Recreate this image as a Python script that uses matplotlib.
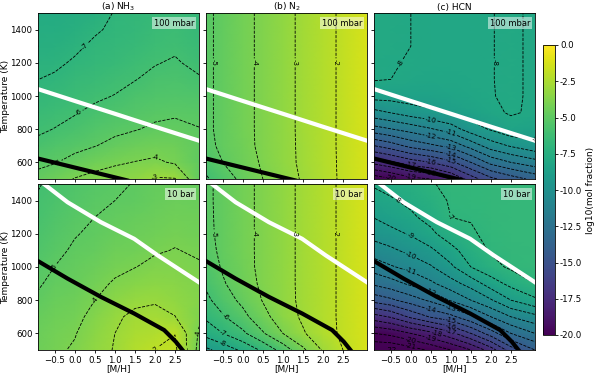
import numpy as np
import matplotlib
matplotlib.use("Agg")
import matplotlib.pyplot as plt

# grid: [M/H] columns, temperature rows
mh = np.array([-0.9, -0.5, 0.0, 0.5, 1.0, 1.5, 2.0, 2.5, 3.1])
temp = np.array([500, 600, 700, 800, 900, 1000, 1100, 1200, 1300, 1400, 1500])

# each inner list = one [M/H] column, values for T = 500 ... 1500 K
nh3_100mbar = np.array([
    [-4.7, -5.2, -5.75, -6.15, -6.45, -6.72, -7.0, -7.25, -7.45, -7.65, -7.8],
    [-4.4, -5.05, -5.5, -5.97, -6.3, -6.6, -6.88, -7.15, -7.38, -7.58, -7.75],
    [-3.95, -4.7, -5.25, -5.75, -6.05, -6.35, -6.6, -6.9, -7.15, -7.4, -7.6],
    [-3.75, -4.3, -5.03, -5.4, -5.8, -6.15, -6.42, -6.65, -6.85, -7.1, -7.35],
    [-3.55, -4.12, -4.75, -5.2, -5.55, -5.97, -6.25, -6.5, -6.7, -6.85, -6.95],
    [-3.4, -3.97, -4.5, -5.05, -5.35, -5.7, -6.03, -6.3, -6.5, -6.65, -6.75],
    [-2.9, -3.85, -4.35, -4.85, -5.2, -5.5, -5.78, -6.05, -6.3, -6.45, -6.6],
    [-2.95, -4.1, -4.4, -4.8, -5.1, -5.4, -5.65, -5.9, -6.15, -6.3, -6.45],
    [-4.8, -4.85, -4.9, -4.97, -5.2, -5.5, -5.9, -6.25, -6.45, -6.6, -6.7],
]).T

nh3_10bar = np.array([
    [-4.4, -4.5, -4.65, -4.85, -5.08, -5.3, -5.5, -5.65, -5.8, -5.9, -6.05],
    [-4.15, -4.25, -4.4, -4.6, -4.78, -4.99, -5.2, -5.38, -5.52, -5.65, -5.78],
    [-3.9, -4.05, -4.25, -4.45, -4.62, -4.75, -4.88, -5.05, -5.2, -5.35, -5.5],
    [-3.3, -3.5, -3.72, -4.0, -4.25, -4.5, -4.7, -4.85, -5.0, -5.13, -5.25],
    [-2.95, -3.0, -3.15, -3.5, -3.9, -4.2, -4.45, -4.65, -4.82, -5.0, -5.1],
    [-2.3, -2.55, -2.8, -3.2, -3.6, -4.02, -4.3, -4.5, -4.68, -4.85, -4.97],
    [-1.98, -2.4, -2.7, -3.1, -3.45, -3.8, -4.08, -4.3, -4.48, -4.62, -4.75],
    [-1.8, -2.02, -2.98, -3.3, -3.55, -3.78, -3.97, -4.15, -4.32, -4.47, -4.6],
    [-4.3, -4.1, -3.85, -3.75, -3.8, -3.92, -4.1, -4.3, -4.45, -4.58, -4.7],
]).T

n2_100mbar = np.array([
    [-6.1, -5.6, -5.25, -5.16, -5.16, -5.16, -5.16, -5.16, -5.16, -5.16, -5.16],
    [-5.5, -5.0, -4.8, -4.77, -4.77, -4.77, -4.77, -4.77, -4.77, -4.77, -4.77],
    [-4.75, -4.45, -4.3, -4.28, -4.28, -4.28, -4.28, -4.28, -4.28, -4.28, -4.28],
    [-4.0, -3.88, -3.8, -3.79, -3.79, -3.79, -3.79, -3.79, -3.79, -3.79, -3.79],
    [-3.45, -3.33, -3.31, -3.3, -3.3, -3.3, -3.3, -3.3, -3.3, -3.3, -3.3],
    [-2.9, -2.83, -2.82, -2.81, -2.81, -2.81, -2.81, -2.81, -2.81, -2.81, -2.81],
    [-2.35, -2.33, -2.32, -2.32, -2.32, -2.32, -2.32, -2.32, -2.32, -2.32, -2.32],
    [-1.85, -1.84, -1.83, -1.83, -1.83, -1.83, -1.83, -1.83, -1.83, -1.83, -1.83],
    [-1.25, -1.24, -1.24, -1.24, -1.24, -1.24, -1.24, -1.24, -1.24, -1.24, -1.24],
]).T

n2_10bar = np.array([
    [-9.2, -7.6, -6.8, -6.2, -5.8, -5.5, -5.3, -5.2, -5.17, -5.15, -5.15],
    [-8.6, -7.0, -6.1, -5.5, -5.1, -4.9, -4.8, -4.77, -4.77, -4.77, -4.77],
    [-7.8, -6.2, -5.3, -4.75, -4.45, -4.3, -4.28, -4.28, -4.28, -4.28, -4.28],
    [-6.8, -5.1, -4.3, -3.95, -3.82, -3.79, -3.79, -3.79, -3.79, -3.79, -3.79],
    [-5.6, -4.0, -3.5, -3.33, -3.3, -3.3, -3.3, -3.3, -3.3, -3.3, -3.3],
    [-4.2, -3.1, -2.85, -2.81, -2.81, -2.81, -2.81, -2.81, -2.81, -2.81, -2.81],
    [-2.9, -2.4, -2.32, -2.32, -2.32, -2.32, -2.32, -2.32, -2.32, -2.32, -2.32],
    [-2.0, -1.83, -1.83, -1.83, -1.83, -1.83, -1.83, -1.83, -1.83, -1.83, -1.83],
    [-1.24, -1.24, -1.24, -1.24, -1.24, -1.24, -1.24, -1.24, -1.24, -1.24, -1.24],
]).T

hcn_100mbar = np.array([
    [-20.6, -17.7, -15.0, -12.4, -10.3, -8.6, -7.95, -7.92, -7.9, -7.9, -7.9],
    [-20.1, -17.2, -14.5, -12.05, -9.97, -8.6, -8.0, -7.97, -7.96, -7.96, -7.96],
    [-19.3, -16.5, -13.7, -11.6, -9.5, -8.5, -8.1, -8.03, -8.0, -8.0, -8.0],
    [-19.0, -16.0, -13.2, -11.1, -9.2, -8.45, -8.15, -8.08, -8.06, -8.06, -8.06],
    [-18.0, -15.25, -12.7, -10.5, -8.9, -8.35, -8.15, -8.1, -8.08, -8.08, -8.08],
    [-16.5, -14.0, -11.6, -9.5, -8.5, -8.2, -8.1, -8.08, -8.07, -8.07, -8.07],
    [-15.25, -12.7, -10.5, -8.9, -8.15, -8.03, -8.02, -8.02, -8.02, -8.02, -8.02],
    [-14.5, -12.0, -9.9, -8.3, -7.93, -7.9, -7.9, -7.9, -7.9, -7.9, -7.9],
    [-13.7, -11.4, -9.3, -8.5, -8.1, -8.1, -8.1, -8.1, -8.1, -8.1, -8.1],
]).T

hcn_10bar = np.array([
    [-22.0, -20.0, -17.4, -14.6, -12.8, -11.5, -10.5, -9.6, -8.95, -8.3, -7.9],
    [-22.0, -19.7, -16.9, -14.2, -12.4, -11.1, -10.2, -9.3, -8.6, -8.1, -7.7],
    [-21.5, -19.0, -15.8, -13.5, -11.8, -10.7, -9.7, -8.9, -8.15, -7.8, -7.5],
    [-20.8, -18.3, -14.9, -12.8, -11.2, -10.1, -9.2, -8.2, -7.7, -7.4, -7.05],
    [-20.0, -17.3, -14.3, -11.9, -10.4, -9.2, -8.3, -7.5, -7.0, -6.9, -6.85],
    [-19.0, -16.0, -13.2, -11.0, -9.6, -8.0, -7.5, -7.1, -6.95, -6.85, -6.8],
    [-17.5, -14.5, -12.0, -10.1, -8.5, -7.3, -6.9, -6.8, -6.75, -6.75, -6.75],
    [-15.5, -13.0, -11.0, -9.0, -7.7, -6.85, -6.75, -6.7, -6.7, -6.7, -6.7],
    [-14.0, -12.0, -10.3, -8.2, -7.0, -6.7, -6.65, -6.65, -6.65, -6.65, -6.65],
]).T

# thick boundary curves (white / black), same in every panel of a row
white_100mbar_mh = [-0.95, 0.0, 1.0, 2.0, 3.15]
white_100mbar_t = [1044, 970, 893, 815, 727]
black_100mbar_mh = [-0.95, 1.3]
black_100mbar_t = [625, 492]
white_10bar_mh = [-0.95, -0.77, -0.18, 0.65, 1.48, 2.07, 3.15]
white_10bar_t = [1530, 1500, 1390, 1270, 1170, 1070, 900]
black_10bar_mh = [-0.95, -0.18, 0.65, 1.48, 2.23, 2.52, 2.72]
black_10bar_t = [1040, 930, 820, 720, 620, 550, 490]

titles = ["(a) NH$_3$", "(b) N$_2$", "(c) HCN"]
pressures = ["100 mbar", "10 bar"]
fields = [[nh3_100mbar, n2_100mbar, hcn_100mbar],
          [nh3_10bar, n2_10bar, hcn_10bar]]
whites = [(white_100mbar_mh, white_100mbar_t), (white_10bar_mh, white_10bar_t)]
blacks = [(black_100mbar_mh, black_100mbar_t), (black_10bar_mh, black_10bar_t)]

fig = plt.figure(figsize=(5.98, 3.77), dpi=100)
W, H = 598.0, 377.0
lefts = [38, 206, 374]
tops = [13, 184]
pw, ph = 161, 166

levels = np.arange(-22, 0)
for r in range(2):
    for c in range(3):
        ax = fig.add_axes([lefts[c] / W, 1 - (tops[r] + ph) / H, pw / W, ph / H])
        z = fields[r][c]
        im = ax.pcolormesh(mh, temp, z, shading='gouraud', cmap='viridis',
                           vmin=-20, vmax=0)
        cs = ax.contour(mh, temp, z, levels=levels, colors='k',
                        linestyles='--', linewidths=0.6)
        ax.clabel(cs, fmt='%d', fontsize=5, inline=True, inline_spacing=1)
        ax.plot(*whites[r], color='white', lw=3)
        ax.plot(*blacks[r], color='black', lw=3)
        ax.set_xlim(-0.92, 3.1)
        ax.set_ylim(500, 1500)
        ax.set_xticks([-0.5, 0.0, 0.5, 1.0, 1.5, 2.0, 2.5])
        ax.set_yticks([600, 800, 1000, 1200, 1400])
        ax.tick_params(labelsize=6.2, length=2.5, width=0.6, pad=1.5)
        for s in ax.spines.values():
            s.set_linewidth(0.6)
        ax.text(0.97, 0.965, pressures[r], transform=ax.transAxes, ha='right',
                va='top', fontsize=6,
                bbox=dict(boxstyle='square,pad=0.2', fc='white', alpha=0.5, ec='none'))
        if r == 0:
            ax.set_title(titles[c], fontsize=6.5, pad=2)
            ax.set_xticklabels([])
        else:
            ax.set_xlabel('[M/H]', fontsize=6.5, labelpad=0)
        if c == 0:
            ax.set_ylabel('Temperature (K)', fontsize=6.5, labelpad=0.5)
        else:
            ax.set_yticklabels([])

cax = fig.add_axes([543 / W, 1 - 335 / H, 11.5 / W, 290 / H])
cb = fig.colorbar(im, cax=cax, ticks=[0, -2.5, -5, -7.5, -10, -12.5, -15, -17.5, -20],
                  format='%.1f')
cb.ax.tick_params(labelsize=6.2, length=2.5, width=0.6, pad=1.5)
cb.outline.set_linewidth(0.6)
cb.set_label('log10(mol fraction)', fontsize=6.5, labelpad=3)

fig.savefig('out.png', dpi=100)
